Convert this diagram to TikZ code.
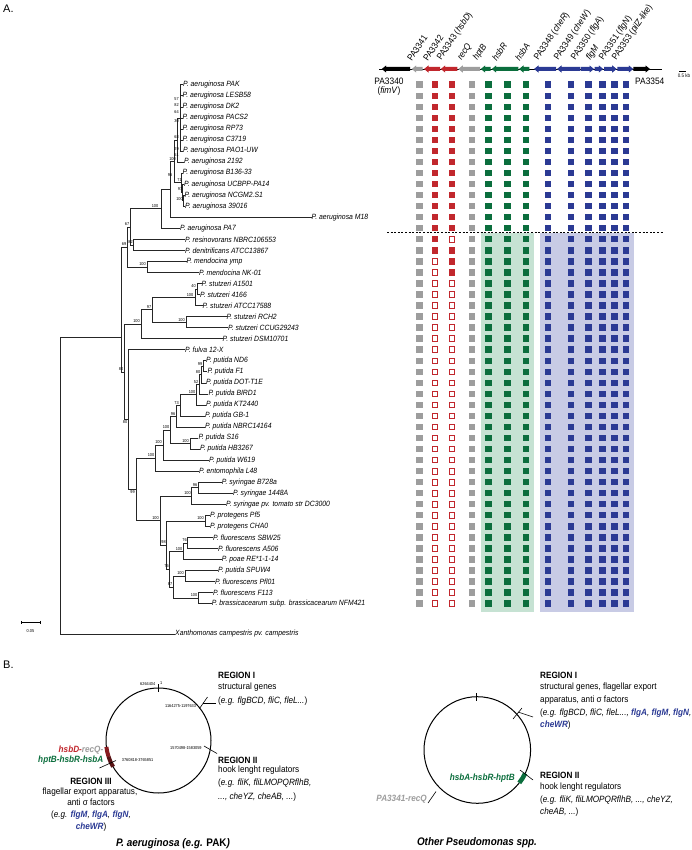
\documentclass[tikz,border=0pt]{standalone}
\usepackage{fontspec}
\setmainfont{Liberation Sans}
\newfontfamily\nar[FakeStretch=0.9]{Liberation Sans}
\usetikzlibrary{calc}
\definecolor{cgrey}{HTML}{9D9D9D}
\definecolor{cred}{HTML}{C1272D}
\definecolor{cgreen}{HTML}{0B6E3D}
\definecolor{cblue}{HTML}{2B3A94}
\definecolor{bgreen}{HTML}{C6E2D3}
\definecolor{bblue}{HTML}{C8CBE5}
\newcommand\fs[1]{\fontsize{#1}{#1}\selectfont}
\newcommand\gb[1]{\textcolor{cblue}{\textbf{\textit{#1}}}}
\newcommand\gL[3]{\fill[#3] (#1,69) -- (#1+4.5,65.4) -- (#1+4.5,67) -- (#2,67) -- (#2,71) -- (#1+4.5,71) -- (#1+4.5,72.6) -- cycle;}
\newcommand\gR[3]{\fill[#3] (#2,69) -- (#2-4.5,65.4) -- (#2-4.5,67) -- (#1,67) -- (#1,71) -- (#2-4.5,71) -- (#2-4.5,72.6) -- cycle;}
\begin{document}
\begin{tikzpicture}[x=1pt,y=-1pt,
  br/.style={line width=0.45pt, draw=black!85},
  lf/.style={anchor=west, inner sep=0pt, font=\nar\fs{7.6}\itshape},
  bs/.style={anchor=east, inner sep=0pt, font=\nar\fs{4.3}},
  gl/.style={anchor=south west, inner sep=0pt, rotate=56, font=\nar\fs{9.1}},
  tx/.style={anchor=west, inner sep=0pt, font=\nar\fs{9.1}},
  txc/.style={inner sep=0pt, font=\nar\fs{9.1}},
  tiny/.style={inner sep=0pt, font=\nar\fs{4.3}},
  cl/.style={line width=0.6pt, draw=black}
]
\useasboundingbox (0,0) rectangle (692,850);
\fill[white] (0,0) rectangle (692,850);

% panel letters
\node[anchor=west, inner sep=0pt, font=\fs{11}] (pA) at (3,9) {A.};
\node[anchor=west, inner sep=0pt, font=\fs{11}] (pB) at (3,665) {B.};

% ---------------- gene map ----------------
\draw[line width=0.6pt] (379,69) -- (662,69);
\gL{381.7}{410}{black}
\gL{411.7}{422.7}{cgrey}
\gL{424}{440}{cred}
\gL{440.7}{457.3}{cred}
\gL{458.3}{480}{cgrey}
\gL{480.7}{490.7}{cgreen}
\gL{491.7}{518.3}{cgreen}
\gL{519}{529.3}{cgreen}
\gL{534}{556}{cblue}
\gL{557}{580}{cblue}
\gR{580.7}{594}{cblue}
\gR{594.7}{603.3}{cblue}
\gR{604}{616.7}{cblue}
\gR{617.3}{633.3}{cblue}
\gR{633.3}{650}{black}

\node[gl] (g1) at (412,62) {PA3341};
\node[gl] (g2) at (428,62) {PA3342};
\node[gl] (g3) at (443,62) {PA3343 (\textit{hsbD})};
\node[gl] (g4) at (463,62) {\textit{recQ}};
\node[gl] (g5) at (479,62) {\textit{hptB}};
\node[gl] (g6) at (497,62) {\textit{hsbR}};
\node[gl] (g7) at (520,62) {\textit{hsbA}};
\node[gl] (g8) at (540,62) {PA3348 (\textit{cheR})};
\node[gl] (g9) at (560,62) {PA3349 (\textit{cheW})};
\node[gl] (g10) at (577,62) {PA3350 (\textit{flgA})};
\node[gl] (g11) at (592,62) {\textit{flgM}};
\node[gl] (g12) at (605,62) {PA3351 (\textit{flgN})};
\node[gl] (g13) at (618,62) {PA3353 (\textit{pilZ-like})};
\node[inner sep=0pt, font=\nar\fs{9.3}] (g0) at (389,81) {PA3340};
\node[inner sep=0pt, font=\nar\fs{9.3}] (g0b) at (389,91) {(\textit{fimV})};
\node[anchor=west, inner sep=0pt, font=\nar\fs{9.3}] (g14) at (635,81.5) {PA3354};
\draw[line width=0.5pt] (679,71.5) -- (686,71.5);
\node[inner sep=0pt, font=\nar\fs{5}] (kb) at (684,76) {0.5 kb};

% ---------------- bands and squares ----------------
\fill[bgreen] (481,233) rectangle (534,612.3);
\fill[bblue] (540,233) rectangle (634,612.3);
\foreach \cx/\cc in {419.3/cgrey, 435/cred, 451.7/cred, 472/cgrey, 488.3/cgreen, 507.3/cgreen, 526/cgreen, 547.7/cblue, 570.7/cblue, 588.3/cblue, 602.3/cblue, 614.3/cblue, 625.7/cblue} {
  \foreach \r in {0,...,47} {
    \pgfmathsetmacro\yy{84.7+11.04*\r}
    \fill[\cc] (\cx-3.2,\yy-3.2) rectangle (\cx+3.2,\yy+3.2);
  }
}
\foreach \r in {16,...,47} {
  \pgfmathsetmacro\yy{84.7+11.04*\r}
  \filldraw[fill=white, draw=cred, line width=0.8pt] (435-2.8,\yy-2.8) rectangle (435+2.8,\yy+2.8);
}
\foreach \r in {14,18,19,...,47} {
  \pgfmathsetmacro\yy{84.7+11.04*\r}
  \filldraw[fill=white, draw=cred, line width=0.8pt] (451.7-2.8,\yy-2.8) rectangle (451.7+2.8,\yy+2.8);
}
\draw[line width=0.8pt, dash pattern=on 2pt off 1.6pt] (387,232.5) -- (663,232.5);

% ---------------- tree leaves ----------------
\node[lf] (l0) at (183,84.7) {P. aeruginosa PAK};
\node[lf] (l1) at (182.5,95.7) {P. aeruginosa LESB58};
\node[lf] (l2) at (182.5,106.8) {P. aeruginosa DK2};
\node[lf] (l3) at (182.5,117.8) {P. aeruginosa PACS2};
\node[lf] (l4) at (182.5,128.9) {P. aeruginosa RP73};
\node[lf] (l5) at (182.5,139.9) {P. aeruginosa C3719};
\node[lf] (l6) at (183,150.9) {P. aeruginosa PAO1-UW};
\node[lf] (l7) at (184,162.0) {P. aeruginosa 2192};
\node[lf] (l8) at (182.5,173.0) {P. aeruginosa B136-33};
\node[lf] (l9) at (184,184.1) {P. aeruginosa UCBPP-PA14};
\node[lf] (l10) at (184.5,195.1) {P. aeruginosa NCGM2.S1};
\node[lf] (l11) at (185,206.1) {P. aeruginosa 39016};
\node[lf] (l12) at (311.5,217.2) {P. aeruginosa M18};
\node[lf] (l13) at (180,228.2) {P. aeruginosa PA7};
\node[lf] (l14) at (185,239.3) {P. resinovorans NBRC106553};
\node[lf] (l15) at (185,250.3) {P. denitrificans ATCC13867};
\node[lf] (l16) at (186.5,261.3) {P. mendocina ymp};
\node[lf] (l17) at (199,272.4) {P. mendocina NK-01};
\node[lf] (l18) at (201.5,283.4) {P. stutzeri A1501};
\node[lf] (l19) at (200,294.5) {P. stutzeri 4166};
\node[lf] (l20) at (202.5,305.5) {P. stutzeri ATCC17588};
\node[lf] (l21) at (226.5,316.5) {P. stutzeri RCH2};
\node[lf] (l22) at (228,327.6) {P. stutzeri CCUG29243};
\node[lf] (l23) at (222.5,338.6) {P. stutzeri DSM10701};
\node[lf] (l24) at (185,349.7) {P. fulva 12-X};
\node[lf] (l25) at (206,360.7) {P. putida ND6};
\node[lf] (l26) at (207.3,371.7) {P. putida F1};
\node[lf] (l27) at (206,382.8) {P. putida DOT-T1E};
\node[lf] (l28) at (208.3,393.8) {P. putida BIRD1};
\node[lf] (l29) at (206,404.9) {P. putida KT2440};
\node[lf] (l30) at (205,415.9) {P. putida GB-1};
\node[lf] (l31) at (205,426.9) {P. putida NBRC14164};
\node[lf] (l32) at (198.3,438.0) {P. putida S16};
\node[lf] (l33) at (200,449.0) {P. putida HB3267};
\node[lf] (l34) at (209,460.1) {P. putida W619};
\node[lf] (l35) at (199,471.1) {P. entomophila L48};
\node[lf] (l36) at (221.7,482.1) {P. syringae B728a};
\node[lf] (l37) at (233,493.2) {P. syringae 1448A};
\node[lf] (l38) at (226,504.2) {P. syringae pv. tomato str DC3000};
\node[lf] (l39) at (210,515.3) {P. protegens Pf5};
\node[lf] (l40) at (210,526.3) {P. protegens CHA0};
\node[lf] (l41) at (213,537.3) {P. fluorescens SBW25};
\node[lf] (l42) at (218,548.4) {P. fluorescens A506};
\node[lf] (l43) at (221.7,559.4) {P. poae RE*1-1-14};
\node[lf] (l44) at (218,570.5) {P. putida SPUW4};
\node[lf] (l45) at (215,581.5) {P. fluorescens Pfl01};
\node[lf] (l46) at (213,592.5) {P. fluorescens F113};
\node[lf] (l47) at (211.7,603.6) {P. brassicacearum subp. brassicacearum NFM421};
\node[lf] (lx) at (175,634) {Xanthomonas campestris pv. campestris};

% ---------------- tree internal nodes ----------------
\coordinate (D) at (180.5,117.8);
\coordinate (C) at (177,139.9);
\coordinate (E1) at (183,200.6);
\coordinate (E2) at (182,192.4);
\coordinate (E3) at (181,182.7);
\coordinate (F) at (174,161.3);
\coordinate (B) at (170.7,189.2);
\coordinate (AE) at (161,208.7);
\coordinate (RD) at (133.3,244.8);
\coordinate (X) at (130.5,226.8);
\coordinate (MD) at (147.7,266.9);
\coordinate (N69) at (127.7,246.9);
\coordinate (ST3) at (197.5,289.0);
\coordinate (ST2) at (195,297.2);
\coordinate (RC) at (186,322.1);
\coordinate (ST1) at (152,309.6);
\coordinate (ST0) at (141.7,324.1);
\coordinate (Q1) at (203.5,366.2);
\coordinate (Q2) at (201.5,374.5);
\coordinate (Q3) at (199.5,384.1);
\coordinate (Q4) at (196.5,394.5);
\coordinate (P4) at (180,405.2);
\coordinate (P3) at (176,416.1);
\coordinate (SH) at (190,443.5);
\coordinate (P2) at (170,429.8);
\coordinate (P1) at (163.3,444.9);
\coordinate (P0) at (155.5,458.0);
\coordinate (Sy1) at (198,487.6);
\coordinate (Sy2) at (191.5,495.9);
\coordinate (PR) at (205,520.8);
\coordinate (FL3a) at (187.7,542.9);
\coordinate (FL3) at (183.3,551.1);
\coordinate (SP) at (185,576.0);
\coordinate (FB) at (198.3,598.0);
\coordinate (FL4) at (173,587.0);
\coordinate (FL2) at (169.5,569.0);
\coordinate (FL) at (166.7,544.9);
\coordinate (SF) at (160,520.4);
\coordinate (N99) at (136,489.2);
\coordinate (N80b) at (128.3,419.5);
\coordinate (K) at (124,371.8);
\coordinate (I) at (121,337.7);
\coordinate (R) at (60,480);

\foreach \c in {l0,l1,l2,l3,l4,l5,l6} {\draw[br] (D) |- (\c.west);}
\foreach \p/\c in {C/D, C/l7.west, E1/l10.west, E1/l11.west, E2/l9.west, E2/E1, E3/l8.west, E3/E2,
  F/C, F/E3, B/F, B/l12.west, AE/B, AE/l13.west, RD/l14.west, RD/l15.west, MD/l16.west, MD/l17.west,
  X/AE, X/RD, N69/X, N69/MD, ST3/l18.west, ST3/l19.west, ST2/ST3, ST2/l20.west,
  RC/l21.west, RC/l22.west, ST1/ST2, ST1/RC, ST0/ST1, ST0/l23.west,
  Q1/l25.west, Q1/l26.west, Q2/Q1, Q2/l27.west, Q3/Q2, Q3/l28.west, Q4/Q3, Q4/l29.west,
  P4/Q4, P4/l30.west, P3/P4, P3/l31.west, SH/l32.west, SH/l33.west, P2/P3, P2/SH,
  P1/P2, P1/l34.west, P0/P1, P0/l35.west, Sy1/l36.west, Sy1/l37.west, Sy2/Sy1, Sy2/l38.west,
  PR/l39.west, PR/l40.west, FL3a/l41.west, FL3a/l42.west, FL3/FL3a, FL3/l43.west,
  SP/l44.west, SP/l45.west, FB/l46.west, FB/l47.west, FL4/SP, FL4/FB, FL2/FL3, FL2/FL4,
  FL/PR, FL/FL2, SF/Sy2, SF/FL, N99/P0, N99/SF, N80b/l24.west, N80b/N99, K/ST0, K/N80b,
  I/N69, I/K, R/I, R/lx.west} {\draw[br] (\p) |- (\c);}

% bootstrap values
\foreach \v/\x/\y [count=\n] in {57/179/99, 82/179/105, 64/179/112.5, 30/179/121.5, 68/179/137, 29/179/149.5, 51/179/155,
  100/176/159.5, 96/172.5/175, 71/182/180.5, 97/182.5/189.5, 100/183/199, 100/158.5/205.7,
  67/129.5/224.3, 69/126.5/244.5, 82/133/242.3, 100/146/264.3, 40/196/286.5, 100/193.5/295, 97/151.5/307.2,
  100/140/321.5, 100/185/319.6, 80/123.5/369.5, 80/127.5/422, 99/135/492, 100/154.5/455.5, 100/162/442.4,
  100/169.5/427.3, 96/175.5/413.6, 73/179/402.7, 100/195.5/392, 52/198.5/381.6, 80/200.5/372, 99/202.5/363.7,
  100/189/441, 96/197.5/485.1, 100/191/493.4, 100/159/517.9, 100/204/518.3, 98/166/542.4, 100/182.5/548.6,
  76/187/540.4, 76/169/566.5, 100/184/573.5, 87/172.5/584.5, 100/197.5/595.5} {
  \node[bs] (bs\n) at (\x,\y) {\v};
}

% scale bar
\draw[line width=0.5pt] (21.7,622.3) -- (40,622.3);
\draw[line width=0.5pt] (21.7,620.8) -- (21.7,623.8);
\draw[line width=0.5pt] (40,620.8) -- (40,623.8);
\node[tiny] (sb) at (30.5,631.5) {0.05};

% ---------------- panel B: left circle ----------------
\coordinate (c1) at (158.5,740.5);
\draw[line width=1pt] (c1) circle[radius=52.5pt];
\draw[line width=0.6pt] (158.5,684) -- (158.5,692);
\node[tiny, anchor=east] (t1a) at (155.5,684.5) {6264404};
\node[tiny, anchor=west] (t1b) at (160,683.5) {1};
\node[tiny, anchor=west] (t1c) at (165,706) {1164275-1197633};
\node[tiny, anchor=west] (t1d) at (170,748.3) {1570498-1583059};
\node[tiny, anchor=west] (t1e) at (121.7,760) {3760818-3765851};
\draw[line width=4pt, color=cred!70!black] ($(c1)+(187:52.5pt)$) arc[start angle=187, end angle=198, radius=52.5pt];
\draw[line width=4pt, color=black!55!cred] ($(c1)+(198:52.5pt)$) arc[start angle=198, end angle=210, radius=52.5pt];
\draw[cl] (199.5,708.5) -- (207.5,697);
\draw[cl] (203,703) -- (216,703);
\draw[cl] (204,746) -- (217,753.5);
\draw[cl] (99.5,768) -- (116,760.5);

\node[txc, anchor=east] (h1) at (103.5,750) {\textbf{\textit{\textcolor{cred}{hsbD-}\textcolor{cgrey}{recQ-}}}};
\node[txc, anchor=east] (h2) at (103.5,760.5) {\textbf{\textit{\textcolor{cgreen}{hptB-hsbR-hsbA}}}};
\node[txc] (r3a) at (91,781) {\textbf{REGION III}};
\node[txc] (r3b) at (90,792) {flagellar export apparatus,};
\node[txc] (r3c) at (91,802) {anti σ factors};
\node[txc] (r3d) at (91,815) {(\textit{e.g. }\gb{flgM}\textit{, }\gb{flgA}\textit{, }\gb{flgN}\textit{,}};
\node[txc] (r3e) at (91,827) {\gb{cheWR})};

\node[tx] (r1a) at (218,675) {\textbf{REGION I}};
\node[tx] (r1b) at (218,687) {structural genes};
\node[tx] (r1c) at (218,701) {(\textit{e.g. flgBCD, fliC, fleL...})};
\node[tx] (r2a) at (218,760) {\textbf{REGION II}};
\node[tx] (r2b) at (218,770.5) {hook lenght regulators};
\node[tx] (r2c) at (218,783.5) {(\textit{e.g. fliK, fliLMOPQRflhB,}};
\node[tx] (r2d) at (218,797) {\textit{..., cheYZ, cheAB, ...})};
\node[inner sep=0pt, font=\nar\fs{11}\bfseries\itshape] (cap1) at (173,843.3) {P. aeruginosa (e.g. \textup{PAK})};

% ---------------- panel B: right circle ----------------
\coordinate (c2) at (477.3,750);
\draw[line width=1pt] (c2) circle[radius=53.3pt];
\draw[line width=0.6pt] (476.7,693) -- (476.7,701);
\draw[line width=4.5pt, color=cgreen] ($(c2)+(-26:53.3pt)$) arc[start angle=-26, end angle=-38, radius=53.3pt];
\draw[cl] (513,719) -- (522,708);
\draw[cl] (518,712) -- (533,717);
\draw[cl] (520,770) -- (533,780);
\draw[cl] (428,803) -- (436,791.5);
\node[txc, anchor=east] (h3) at (515,778.3) {\textbf{\textit{\textcolor{cgreen}{hsbA-hsbR-hptB}}}};
\node[txc, anchor=east] (h4) at (427,799.3) {\textbf{\textit{\textcolor{cgrey}{PA3341-recQ}}}};
\node[tx] (s1a) at (540,675) {\textbf{REGION I}};
\node[tx] (s1b) at (540,687) {structural genes, flagellar export};
\node[tx] (s1c) at (540,700.5) {apparatus, anti σ factors};
\node[tx] (s1d) at (540,713.5) {(\textit{e.g. flgBCD, fliC, fleL..., }\gb{flgA}\textit{, }\gb{flgM}\textit{, }\gb{flgN}\textit{,}};
\node[tx] (s1e) at (540,725.5) {\gb{cheWR})};
\node[tx] (s2a) at (540,775) {\textbf{REGION II}};
\node[tx] (s2b) at (540,787) {hook lenght regulators};
\node[tx] (s2c) at (540,800) {(\textit{e.g. fliK, fliLMOPQRflhB, ..., cheYZ,}};
\node[tx] (s2d) at (540,812) {\textit{cheAB, ...})};
\node[inner sep=0pt, font=\nar\fs{11}\bfseries\itshape] (cap2) at (477,843) {Other Pseudomonas spp.};
\end{tikzpicture}
\end{document}
